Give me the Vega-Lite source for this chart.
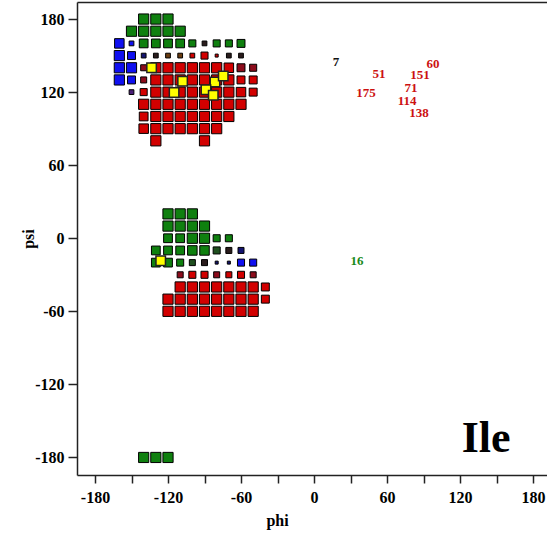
{
"$schema":"https://vega.github.io/schema/vega-lite/v6.json",
"width":470,"height":473,
"autosize":{"type":"none"},
"padding":{"left":77,"top":2,"right":0,"bottom":64},
"background":"white",
"config":{"view":{"stroke":null},"font":"Liberation Serif"},
"datasets":{
"cells":[
{"phi":-140,"psi":180,"n":8,"c":"G"},{"phi":-130,"psi":180,"n":8,"c":"G"},{"phi":-120,"psi":180,"n":8,"c":"G"},
{"phi":-150,"psi":170,"n":8,"c":"G"},{"phi":-140,"psi":170,"n":8,"c":"G"},{"phi":-130,"psi":170,"n":8,"c":"G"},{"phi":-120,"psi":170,"n":8,"c":"G"},{"phi":-110,"psi":170,"n":8,"c":"G"},
{"phi":-160,"psi":160,"n":7,"c":"B"},{"phi":-150,"psi":160,"n":2,"c":"B"},{"phi":-140,"psi":160,"n":6,"c":"G"},{"phi":-130,"psi":160,"n":6,"c":"G"},{"phi":-120,"psi":160,"n":6,"c":"G"},{"phi":-110,"psi":160,"n":6,"c":"G"},{"phi":-100,"psi":160,"n":4,"c":"G"},{"phi":-90,"psi":160,"n":2,"c":"M"},{"phi":-80,"psi":160,"n":4,"c":"G"},{"phi":-70,"psi":160,"n":4,"c":"G"},{"phi":-60,"psi":160,"n":5,"c":"G"},
{"phi":-160,"psi":150,"n":8,"c":"B"},{"phi":-150,"psi":150,"n":5,"c":"B"},{"phi":-140,"psi":150,"n":2,"c":"N"},{"phi":-130,"psi":150,"n":2,"c":"M"},{"phi":-120,"psi":150,"n":2,"c":"Br"},{"phi":-110,"psi":150,"n":2,"c":"Br"},{"phi":-100,"psi":150,"n":2,"c":"R"},{"phi":-90,"psi":150,"n":4,"c":"R"},{"phi":-80,"psi":150,"n":1,"c":"R"},{"phi":-70,"psi":150,"n":2,"c":"M"},{"phi":-60,"psi":150,"n":2,"c":"M"},
{"phi":-160,"psi":140,"n":8,"c":"B"},{"phi":-150,"psi":140,"n":8,"c":"B"},{"phi":-140,"psi":140,"n":3,"c":"DR"},{"phi":-130,"psi":140,"n":8,"c":"R"},{"phi":-120,"psi":140,"n":8,"c":"R"},{"phi":-110,"psi":140,"n":8,"c":"R"},{"phi":-100,"psi":140,"n":8,"c":"R"},{"phi":-90,"psi":140,"n":8,"c":"R"},{"phi":-80,"psi":140,"n":8,"c":"R"},{"phi":-70,"psi":140,"n":7,"c":"R"},{"phi":-60,"psi":140,"n":5,"c":"DR"},{"phi":-50,"psi":140,"n":4,"c":"DR"},
{"phi":-160,"psi":130,"n":8,"c":"B"},{"phi":-150,"psi":130,"n":5,"c":"B"},{"phi":-140,"psi":130,"n":3,"c":"DR"},{"phi":-130,"psi":130,"n":8,"c":"R"},{"phi":-120,"psi":130,"n":8,"c":"R"},{"phi":-110,"psi":130,"n":8,"c":"R"},{"phi":-100,"psi":130,"n":8,"c":"R"},{"phi":-90,"psi":130,"n":8,"c":"R"},{"phi":-80,"psi":130,"n":8,"c":"R"},{"phi":-70,"psi":130,"n":8,"c":"R"},{"phi":-60,"psi":130,"n":5,"c":"R"},{"phi":-50,"psi":130,"n":5,"c":"R"},
{"phi":-150,"psi":120,"n":2,"c":"P"},{"phi":-140,"psi":120,"n":4,"c":"R"},{"phi":-130,"psi":120,"n":8,"c":"R"},{"phi":-120,"psi":120,"n":8,"c":"R"},{"phi":-110,"psi":120,"n":8,"c":"R"},{"phi":-100,"psi":120,"n":8,"c":"R"},{"phi":-90,"psi":120,"n":8,"c":"R"},{"phi":-80,"psi":120,"n":8,"c":"R"},{"phi":-70,"psi":120,"n":8,"c":"R"},{"phi":-60,"psi":120,"n":7,"c":"R"},{"phi":-50,"psi":120,"n":5,"c":"R"},
{"phi":-140,"psi":110,"n":8,"c":"R"},{"phi":-130,"psi":110,"n":8,"c":"R"},{"phi":-120,"psi":110,"n":8,"c":"R"},{"phi":-110,"psi":110,"n":8,"c":"R"},{"phi":-100,"psi":110,"n":8,"c":"R"},{"phi":-90,"psi":110,"n":8,"c":"R"},{"phi":-80,"psi":110,"n":8,"c":"R"},{"phi":-70,"psi":110,"n":8,"c":"R"},{"phi":-60,"psi":110,"n":8,"c":"R"},
{"phi":-140,"psi":100,"n":6,"c":"R"},{"phi":-130,"psi":100,"n":8,"c":"R"},{"phi":-120,"psi":100,"n":8,"c":"R"},{"phi":-110,"psi":100,"n":8,"c":"R"},{"phi":-100,"psi":100,"n":8,"c":"R"},{"phi":-90,"psi":100,"n":8,"c":"R"},{"phi":-80,"psi":100,"n":8,"c":"R"},{"phi":-70,"psi":100,"n":8,"c":"R"},
{"phi":-140,"psi":90,"n":7,"c":"R"},{"phi":-130,"psi":90,"n":8,"c":"R"},{"phi":-120,"psi":90,"n":8,"c":"R"},{"phi":-110,"psi":90,"n":8,"c":"R"},{"phi":-100,"psi":90,"n":8,"c":"R"},{"phi":-90,"psi":90,"n":8,"c":"R"},{"phi":-80,"psi":90,"n":8,"c":"R"},
{"phi":-130,"psi":80,"n":8,"c":"R"},{"phi":-90,"psi":80,"n":8,"c":"R"},
{"phi":-120,"psi":20,"n":8,"c":"G"},{"phi":-110,"psi":20,"n":8,"c":"G"},{"phi":-100,"psi":20,"n":8,"c":"G"},
{"phi":-120,"psi":10,"n":8,"c":"G"},{"phi":-110,"psi":10,"n":8,"c":"G"},{"phi":-100,"psi":10,"n":8,"c":"G"},{"phi":-90,"psi":10,"n":8,"c":"G"},
{"phi":-120,"psi":0,"n":6,"c":"G"},{"phi":-110,"psi":0,"n":6,"c":"G"},{"phi":-100,"psi":0,"n":8,"c":"G"},{"phi":-90,"psi":0,"n":8,"c":"G"},{"phi":-80,"psi":0,"n":4,"c":"G"},{"phi":-70,"psi":0,"n":4,"c":"G"},
{"phi":-130,"psi":-10,"n":6,"c":"G"},{"phi":-120,"psi":-10,"n":6,"c":"G"},{"phi":-110,"psi":-10,"n":6,"c":"G"},{"phi":-100,"psi":-10,"n":7,"c":"G"},{"phi":-90,"psi":-10,"n":7,"c":"G"},{"phi":-80,"psi":-10,"n":4,"c":"DG"},{"phi":-70,"psi":-10,"n":3,"c":"M"},{"phi":-60,"psi":-10,"n":3,"c":"N"},
{"phi":-130,"psi":-20,"n":6,"c":"G"},{"phi":-120,"psi":-20,"n":6,"c":"G"},{"phi":-110,"psi":-20,"n":4,"c":"G"},{"phi":-100,"psi":-20,"n":3,"c":"DG"},{"phi":-90,"psi":-20,"n":3,"c":"M"},{"phi":-80,"psi":-20,"n":1,"c":"N"},{"phi":-70,"psi":-20,"n":1,"c":"N"},{"phi":-60,"psi":-20,"n":4,"c":"B"},{"phi":-50,"psi":-20,"n":4,"c":"B"},
{"phi":-110,"psi":-30,"n":3,"c":"DR"},{"phi":-100,"psi":-30,"n":4,"c":"R"},{"phi":-90,"psi":-30,"n":4,"c":"R"},{"phi":-80,"psi":-30,"n":3,"c":"DR"},{"phi":-70,"psi":-30,"n":3,"c":"R"},{"phi":-60,"psi":-30,"n":4,"c":"R"},{"phi":-50,"psi":-30,"n":3,"c":"DR"},
{"phi":-110,"psi":-40,"n":8,"c":"R"},{"phi":-100,"psi":-40,"n":8,"c":"R"},{"phi":-90,"psi":-40,"n":8,"c":"R"},{"phi":-80,"psi":-40,"n":8,"c":"R"},{"phi":-70,"psi":-40,"n":8,"c":"R"},{"phi":-60,"psi":-40,"n":8,"c":"R"},{"phi":-50,"psi":-40,"n":8,"c":"R"},{"phi":-40,"psi":-40,"n":5,"c":"R"},
{"phi":-120,"psi":-50,"n":8,"c":"R"},{"phi":-110,"psi":-50,"n":8,"c":"R"},{"phi":-100,"psi":-50,"n":8,"c":"R"},{"phi":-90,"psi":-50,"n":8,"c":"R"},{"phi":-80,"psi":-50,"n":8,"c":"R"},{"phi":-70,"psi":-50,"n":8,"c":"R"},{"phi":-60,"psi":-50,"n":8,"c":"R"},{"phi":-50,"psi":-50,"n":8,"c":"R"},{"phi":-40,"psi":-50,"n":5,"c":"R"},
{"phi":-120,"psi":-60,"n":8,"c":"R"},{"phi":-110,"psi":-60,"n":8,"c":"R"},{"phi":-100,"psi":-60,"n":8,"c":"R"},{"phi":-90,"psi":-60,"n":8,"c":"R"},{"phi":-80,"psi":-60,"n":8,"c":"R"},{"phi":-70,"psi":-60,"n":8,"c":"R"},{"phi":-60,"psi":-60,"n":8,"c":"R"},{"phi":-50,"psi":-60,"n":8,"c":"R"},
{"phi":-140,"psi":-180,"n":8,"c":"G"},{"phi":-130,"psi":-180,"n":8,"c":"G"},{"phi":-120,"psi":-180,"n":8,"c":"G"}
],
"points":[
{"phi":-133.5,"psi":140},{"phi":-108,"psi":129},{"phi":-115,"psi":119.6},{"phi":-81.4,"psi":128.4},{"phi":-74.6,"psi":133.3},{"phi":-88.8,"psi":122},{"phi":-82.8,"psi":117.4},{"phi":-126,"psi":-18.5}
],
"labels":[
{"phi":18,"psi":144.6,"label":"7","c":"other"},
{"phi":53.5,"psi":134.7,"label":"51","c":"alpha"},
{"phi":97.9,"psi":142.9,"label":"60","c":"alpha"},
{"phi":87.2,"psi":133.9,"label":"151","c":"alpha"},
{"phi":42.8,"psi":119,"label":"175","c":"alpha"},
{"phi":79.8,"psi":123.4,"label":"71","c":"alpha"},
{"phi":76.5,"psi":112.3,"label":"114","c":"alpha"},
{"phi":86.3,"psi":102.6,"label":"138","c":"alpha"},
{"phi":35.4,"psi":-18.5,"label":"16","c":"beta"}
],
"residue":[{"phi":141.5,"psi":-175.5,"label":"Ile"}]
},
"resolve":{"scale":{"color":"independent"},"axis":{"x":"independent"}},
"layer":[
{"data":{"name":"cells"},
 "mark":{"type":"square","filled":true,"stroke":"black","strokeWidth":1,"opacity":1},
 "encoding":{
  "x":{"field":"phi","type":"quantitative","scale":{"domain":[-194.8,191.5],"nice":false,"zero":false},
   "axis":{"values":[-180,-150,-120,-90,-60,-30,0,30,60,90,120,150,180],"labelExpr":"datum.value % 60 === 0 ? '' + datum.value : ''","grid":false,"tickSize":8,"tickWidth":1.5,"tickColor":"#222","domainColor":"#222","domainWidth":1.5,"labelFont":"Liberation Serif","labelFontSize":16,"labelFontWeight":"bold","labelColor":"black","labelPadding":6,"labelFlush":false,"labelOverlap":false,"title":"phi","titleFont":"Liberation Serif","titleFontSize":16,"titleFontWeight":"bold","titleColor":"black","titleX":200,"titleY":45,"titleBaseline":"middle","titleAlign":"center"}},
  "y":{"field":"psi","type":"quantitative","scale":{"domain":[-194.4,194],"nice":false,"zero":false},
   "axis":{"values":[-180,-150,-120,-90,-60,-30,0,30,60,90,120,150,180],"labelExpr":"datum.value % 60 === 0 ? '' + datum.value : ''","grid":false,"tickSize":9,"tickWidth":1.5,"tickColor":"#222","domainColor":"#222","domainWidth":1.5,"labelFont":"Liberation Serif","labelFontSize":16,"labelFontWeight":"bold","labelColor":"black","labelPadding":4,"labelFlush":false,"labelOverlap":false,"title":"psi","titleFont":"Liberation Serif","titleFontSize":16,"titleFontWeight":"bold","titleColor":"black","titleX":-49,"titleAngle":-90,"titleBaseline":"middle","titleAlign":"center"}},
  "size":{"field":"n","type":"quantitative","scale":{"domain":[1,8],"range":[9,104]},"legend":null},
  "color":{"field":"c","type":"nominal","scale":{"domain":["G","DG","B","N","R","DR","M","Br","P"],"range":["#0f800f","#1f4f1f","#1010f0","#141470","#d20000","#8c0c1c","#2a1c1c","#6a3c10","#4a1e78"]},"legend":null}
 }},
{"data":{"name":"points"},
 "mark":{"type":"square","filled":true,"fill":"#ffff00","stroke":"#222","strokeWidth":1.5,"size":90,"opacity":1},
 "encoding":{
  "x":{"field":"phi","type":"quantitative","scale":{"domain":[-194.8,191.5],"nice":false,"zero":false},
   "axis":{"orient":"top","labels":false,"ticks":false,"title":null,"grid":false,"domainColor":"#222","domainWidth":1.5}},
  "y":{"field":"psi","type":"quantitative","scale":{"domain":[-194.4,194],"nice":false,"zero":false}}
 }},
{"data":{"name":"labels"},
 "mark":{"type":"text","font":"Liberation Serif","fontWeight":"bold","fontSize":13,"baseline":"middle","align":"center"},
 "encoding":{
  "x":{"field":"phi","type":"quantitative","scale":{"domain":[-194.8,191.5],"nice":false,"zero":false},"axis":null},
  "y":{"field":"psi","type":"quantitative","scale":{"domain":[-194.4,194],"nice":false,"zero":false}},
  "text":{"field":"label"},
  "color":{"field":"c","type":"nominal","scale":{"domain":["alpha","beta","other"],"range":["#cc1111","#1a8a1a","#111111"]},"legend":null}
 }},
{"data":{"name":"residue"},
 "mark":{"type":"text","font":"Liberation Serif","fontWeight":"bold","fontSize":44,"baseline":"alphabetic","align":"center","color":"black"},
 "encoding":{
  "x":{"field":"phi","type":"quantitative","scale":{"domain":[-194.8,191.5],"nice":false,"zero":false},"axis":null},
  "y":{"field":"psi","type":"quantitative","scale":{"domain":[-194.4,194],"nice":false,"zero":false}},
  "text":{"field":"label"}
 }}
]
}
